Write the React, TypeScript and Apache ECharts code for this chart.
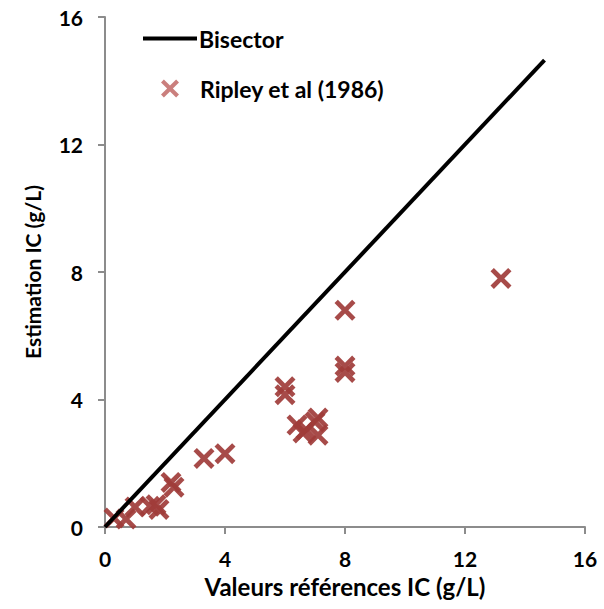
import React, { useEffect, useRef } from "react";
import * as echarts from "echarts";

const bisectorPoints: number[][] = [
  [0, 0],
  [14.65, 14.65],
];

const ripleyX: number[] = [0.3, 0.7, 1.0, 1.5, 1.8, 1.7, 2.2, 2.3, 3.3, 4.0, 6.0, 6.0, 6.4, 6.7, 6.6, 7.0, 7.1, 7.1, 8.0, 8.0, 8.0, 13.2];
const ripleyY: number[] = [0.28, 0.25, 0.63, 0.65, 0.55, 0.7, 1.4, 1.25, 2.15, 2.3, 4.4, 4.15, 3.2, 3.05, 2.95, 3.3, 3.42, 2.88, 6.8, 5.05, 4.85, 7.8];

const xTicks: number[] = [0, 4, 8, 12, 16];
const yTicks: number[] = [0, 4, 8, 12, 16];

const seriesNames = ["Bisector", "Ripley et al (1986)"];
const xTitle = "Valeurs références IC (g/L)";
const yTitle = "Estimation IC (g/L)";

const X_PATH =
  "path://M0,16L16,0L50,34L84,0L100,16L66,50L100,84L84,100L50,66L16,100L0,84L34,50Z";

export default function App() {
  const ref = useRef<HTMLDivElement>(null);
  useEffect(() => {
    if (!ref.current) return;
    const chart = echarts.init(ref.current, null, { renderer: "svg" });
    const font = "Lato, 'Open Sans', sans-serif";
    const axisLine = { show: true, lineStyle: { color: "#8c8c8c", width: 2 } };
    chart.setOption({
      animation: false,
      backgroundColor: "#ffffff",
      grid: { left: 105, right: 19, top: 17, bottom: 82, containLabel: false },
      legend: [
        {
          data: [seriesNames[0]],
          left: 143,
          top: 27,
          padding: 0,
          icon: "rect",
          itemWidth: 54,
          itemHeight: 4,
          textStyle: { fontFamily: font, fontSize: 23, color: "#000", fontWeight: "bold", padding: [0, 0, 0, -3] },
        },
        {
          data: [seriesNames[1]],
          left: 161,
          top: 77,
          padding: 0,
          icon: X_PATH,
          itemWidth: 18,
          itemHeight: 18,
          itemStyle: { color: "#c67472" },
          textStyle: { fontFamily: font, fontSize: 23, color: "#000", fontWeight: "bold", padding: [0, 0, 0, 16] },
        },
      ],
      xAxis: {
        type: "value",
        min: xTicks[0],
        max: xTicks[xTicks.length - 1],
        interval: 4,
        name: xTitle,
        nameLocation: "middle",
        nameGap: 47,
        nameTextStyle: { fontFamily: font, fontSize: 24, fontWeight: "bold", color: "#000" },
        axisLine,
        axisTick: { show: true, length: 7, lineStyle: { color: "#8c8c8c", width: 2 } },
        axisLabel: { fontFamily: font, fontSize: 21, fontWeight: "bold", color: "#000", margin: 21 },
        splitLine: { show: false },
      },
      yAxis: {
        type: "value",
        min: yTicks[0],
        max: yTicks[yTicks.length - 1],
        interval: 4,
        name: yTitle,
        nameLocation: "middle",
        nameGap: 62,
        nameTextStyle: { fontFamily: font, fontSize: 21, fontWeight: "bold", color: "#000" },
        axisLine,
        axisTick: { show: true, length: 7, lineStyle: { color: "#8c8c8c", width: 2 } },
        axisLabel: { fontFamily: font, fontSize: 21, fontWeight: "bold", color: "#000", margin: 22 },
        splitLine: { show: false },
      },
      series: [
        {
          name: seriesNames[0],
          type: "line",
          data: bisectorPoints,
          showSymbol: false,
          symbol: "none",
          lineStyle: { color: "#000", width: 4 },
          itemStyle: { color: "#000" },
          z: 3,
        },
        {
          name: seriesNames[1],
          type: "scatter",
          data: ripleyX.map((x, i) => [x, ripleyY[i]]),
          symbol: X_PATH,
          symbolSize: 21,
          itemStyle: { color: "#a03c39", opacity: 0.92 },
          z: 2,
        },
      ],
    });
    return () => chart.dispose();
  }, []);
  return (
    <div
      ref={ref}
      style={{ position: "absolute", left: 0, top: 0, width: 604, height: 609, background: "#fff" }}
    />
  );
}
